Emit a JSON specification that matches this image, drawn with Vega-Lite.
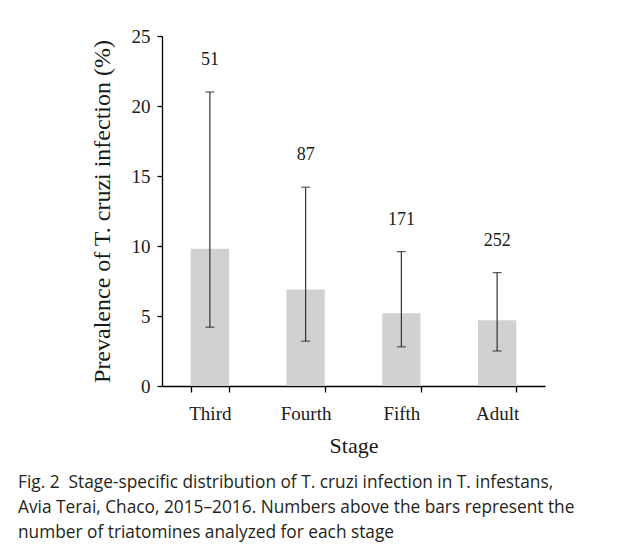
{
  "$schema": "https://vega.github.io/schema/vega-lite/v6.json",
  "autosize": {"type": "none"},
  "width": 383,
  "height": 350,
  "padding": {"left": 162, "top": 36, "right": 79, "bottom": 173},
  "background": "white",
  "data": {
    "values": [
      {"stage": "Third", "prevalence": 9.8, "lower": 4.2, "upper": 21.0, "n": 51},
      {"stage": "Fourth", "prevalence": 6.9, "lower": 3.2, "upper": 14.2, "n": 87},
      {"stage": "Fifth", "prevalence": 5.2, "lower": 2.8, "upper": 9.6, "n": 171},
      {"stage": "Adult", "prevalence": 4.7, "lower": 2.5, "upper": 8.1, "n": 252}
    ]
  },
  "title": {
    "text": [
      "Fig. 2\u00a0\u00a0Stage-specific distribution of T. cruzi infection in T. infestans,",
      "Avia Terai, Chaco, 2015–2016. Numbers above the bars represent the",
      "number of triatomines analyzed for each stage"
    ],
    "orient": "bottom",
    "anchor": "start",
    "frame": "group",
    "dx": -144,
    "offset": 18,
    "font": "Open Sans",
    "fontSize": 17.3,
    "fontWeight": "normal",
    "lineHeight": 25,
    "color": "#231f20"
  },
  "encoding": {
    "x": {
      "field": "stage",
      "type": "nominal",
      "sort": ["Third", "Fourth", "Fifth", "Adult"],
      "scale": {"paddingInner": 0.6, "paddingOuter": 0.3},
      "axis": {
        "title": "Stage",
        "labelAngle": 0,
        "tickBand": "extent",
        "tickSize": 6,
        "labelPadding": 12,
        "titlePadding": 12,
        "labelFont": "Liberation Serif",
        "labelFontSize": 19,
        "labelColor": "#1a1a1a",
        "titleFont": "Liberation Serif",
        "titleFontSize": 22,
        "titleFontWeight": "normal",
        "titleColor": "#1a1a1a",
        "domainColor": "#000000",
        "tickColor": "#000000",
        "domainWidth": 1.3,
        "tickWidth": 1.3
      }
    }
  },
  "layer": [
    {
      "mark": {"type": "bar", "color": "#d0d1d0"},
      "encoding": {
        "y": {
          "field": "prevalence",
          "type": "quantitative",
          "scale": {"domain": [0, 25], "nice": false},
          "axis": {
            "title": "Prevalence of T. cruzi infection (%)",
            "values": [0, 5, 10, 15, 20, 25],
            "grid": false,
            "tickSize": 5,
            "labelPadding": 7,
            "titlePadding": 17,
            "labelFont": "Liberation Serif",
            "labelFontSize": 19,
            "labelColor": "#1a1a1a",
            "titleFont": "Liberation Serif",
            "titleFontSize": 24,
            "titleFontWeight": "normal",
            "titleColor": "#1a1a1a",
            "domainColor": "#000000",
            "tickColor": "#000000",
            "domainWidth": 1.3,
            "tickWidth": 1.3
          }
        }
      }
    },
    {
      "mark": {"type": "rule", "color": "#333333", "strokeWidth": 1.2},
      "encoding": {
        "y": {"field": "lower", "type": "quantitative"},
        "y2": {"field": "upper"}
      }
    },
    {
      "mark": {"type": "tick", "color": "#1a1a1a", "size": 9, "thickness": 1.2},
      "encoding": {
        "y": {"field": "upper", "type": "quantitative"}
      }
    },
    {
      "mark": {"type": "tick", "color": "#1a1a1a", "size": 9, "thickness": 1.2},
      "encoding": {
        "y": {"field": "lower", "type": "quantitative"}
      }
    },
    {
      "mark": {"type": "text", "font": "Liberation Serif", "fontSize": 18, "color": "#1a1a1a", "baseline": "middle", "dy": -32},
      "encoding": {
        "y": {"field": "upper", "type": "quantitative"},
        "text": {"field": "n", "type": "quantitative"}
      }
    }
  ],
  "config": {
    "view": {"stroke": null}
  }
}
